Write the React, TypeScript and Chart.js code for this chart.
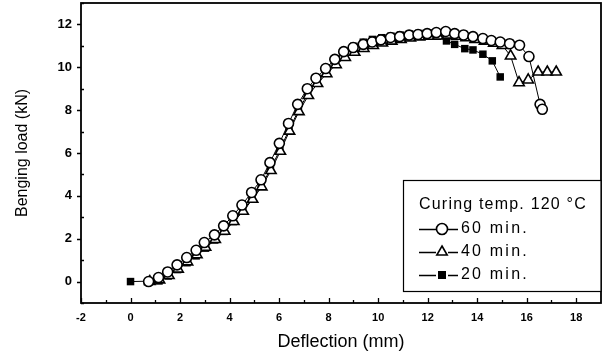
import React, { useEffect, useRef } from "react";
import { Chart, registerables } from "chart.js";

Chart.register(...registerables);

// 60 min. (circles)
const x60 = [0.73, 1.13, 1.5, 1.88, 2.27, 2.65, 2.98, 3.39, 3.76, 4.13, 4.5, 4.89, 5.27, 5.63, 6.01, 6.38, 6.75, 7.14, 7.49, 7.88, 8.25, 8.61, 8.99, 9.4, 9.76, 10.11, 10.5, 10.87, 11.25, 11.61, 11.98, 12.35, 12.73, 13.09, 13.45, 13.83, 14.23, 14.57, 14.93, 15.31, 15.71, 16.09, 16.54, 16.63];
const y60 = [0, 0.19, 0.45, 0.78, 1.12, 1.46, 1.82, 2.18, 2.6, 3.07, 3.57, 4.16, 4.75, 5.55, 6.45, 7.38, 8.27, 9.0, 9.49, 9.94, 10.37, 10.73, 10.92, 11.07, 11.18, 11.28, 11.39, 11.43, 11.5, 11.53, 11.57, 11.62, 11.67, 11.57, 11.51, 11.43, 11.34, 11.25, 11.18, 11.1, 11.03, 10.5, 8.27, 8.04];

// 40 min. (triangles)
const x40 = [0.78, 1.17, 1.55, 1.92, 2.3, 2.68, 3.03, 3.42, 3.8, 4.17, 4.55, 4.93, 5.3, 5.67, 6.05, 6.42, 6.8, 7.18, 7.55, 7.92, 8.3, 8.67, 9.05, 9.42, 9.8, 10.17, 10.55, 10.92, 11.3, 11.67, 12.05, 12.42, 12.8, 13.17, 13.55, 13.92, 14.3, 14.67, 15.02, 15.35, 15.69, 16.06, 16.46, 16.83, 17.19];
const y40 = [0, 0.08, 0.28, 0.58, 0.92, 1.25, 1.6, 1.96, 2.35, 2.8, 3.28, 3.84, 4.42, 5.18, 6.08, 7.02, 7.93, 8.68, 9.24, 9.7, 10.12, 10.46, 10.7, 10.88, 11.02, 11.13, 11.22, 11.3, 11.37, 11.42, 11.45, 11.46, 11.5, 11.45, 11.38, 11.3, 11.22, 11.12, 11.02, 10.53, 9.28, 9.41, 9.78, 9.78, 9.78];

// 20 min. (filled squares)
const x20 = [0, 1.15, 1.52, 1.9, 2.28, 2.65, 3.03, 3.4, 3.78, 4.15, 4.53, 4.9, 5.28, 5.65, 6.03, 6.4, 6.78, 7.15, 7.52, 7.9, 8.27, 8.65, 9.02, 9.4, 9.77, 10.15, 10.52, 10.9, 11.27, 11.65, 12.02, 12.4, 12.76, 13.09, 13.5, 13.83, 14.23, 14.61, 14.93];
const y20 = [0, 0.03, 0.26, 0.56, 0.88, 1.2, 1.56, 1.94, 2.34, 2.8, 3.3, 3.86, 4.46, 5.24, 6.14, 7.08, 7.98, 8.74, 9.36, 9.88, 10.34, 10.7, 10.98, 11.17, 11.3, 11.38, 11.45, 11.5, 11.55, 11.58, 11.6, 11.45, 11.23, 11.07, 10.87, 10.81, 10.61, 10.3, 9.55];

const seriesLabels = ["60 min.", "40 min.", "20 min."];
const legendTitle = "Curing temp. 120 °C";
const xTitle = "Deflection (mm)";
const yTitle = "Benging load (kN)";
const xLabelTicks = [-2, 0, 2, 4, 6, 8, 10, 12, 14, 16, 18];
const yLabelTicks = [0, 2, 4, 6, 8, 10, 12];
const xMinorTicks = [-2, -1, 0, 1, 2, 3, 4, 5, 6, 7, 8, 9, 10, 11, 12, 13, 14, 15, 16, 17, 18];
const yMinorTicks = [-1, 0, 1, 2, 3, 4, 5, 6, 7, 8, 9, 10, 11, 12, 13];

const FONT = "'Liberation Sans', Arial, Helvetica, sans-serif";

const toPoints = (xs: number[], ys: number[]) => xs.map((x, i) => ({ x, y: ys[i] }));

const framePlugin = {
  id: "frameTicks",
  beforeDatasetsDraw(chart: any) {
    const { ctx, chartArea: a, scales } = chart;
    ctx.save();
    ctx.strokeStyle = "#000";
    ctx.lineWidth = 1.8;
    ctx.strokeRect(a.left, a.top, a.right - a.left, a.bottom - a.top);
    ctx.lineWidth = 1.3;
    ctx.beginPath();
    xMinorTicks.forEach((v) => {
      const px = Math.round(scales.x.getPixelForValue(v)) + 0.5;
      const len = v % 2 === 0 ? 5 : 3;
      ctx.moveTo(px, a.bottom);
      ctx.lineTo(px, a.bottom - len);
    });
    yMinorTicks.forEach((v) => {
      const py = Math.round(scales.y.getPixelForValue(v)) + 0.5;
      if (v % 2 === 0) {
        ctx.moveTo(a.left, py);
        ctx.lineTo(a.left - 4, py);
      } else {
        ctx.moveTo(a.left, py);
        ctx.lineTo(a.left + 3, py);
      }
    });
    ctx.stroke();
    ctx.restore();
  },
};

const legendPlugin = {
  id: "customLegend",
  afterDraw(chart: any) {
    const { ctx } = chart;
    const left = 403.5;
    const top = 180.5;
    const right = chart.chartArea.right;
    const bottom = 291.5;
    ctx.save();
    ctx.fillStyle = "#fff";
    ctx.fillRect(left, top, right - left, bottom - top);
    ctx.strokeStyle = "#000";
    ctx.lineWidth = 1.2;
    ctx.strokeRect(left, top, right - left, bottom - top);

    ctx.fillStyle = "#000";
    ctx.textBaseline = "middle";
    ctx.textAlign = "left";
    ctx.font = `16px ${FONT}`;
    (ctx as any).letterSpacing = "1.2px";
    ctx.fillText(legendTitle, 419, 205);

    const rows = [229, 252, 275];
    const mx = 442;
    rows.forEach((ry, i) => {
      ctx.lineWidth = 1.3;
      ctx.strokeStyle = "#000";
      ctx.beginPath();
      ctx.moveTo(419, ry + 0.5);
      ctx.lineTo(436, ry + 0.5);
      ctx.moveTo(448, ry + 0.5);
      ctx.lineTo(458, ry + 0.5);
      ctx.stroke();
      ctx.lineWidth = 1.6;
      if (i === 0) {
        ctx.beginPath();
        ctx.arc(mx, ry, 5.5, 0, Math.PI * 2);
        ctx.fillStyle = "#fff";
        ctx.fill();
        ctx.stroke();
      } else if (i === 1) {
        const r = 6;
        ctx.beginPath();
        ctx.moveTo(mx, ry - r);
        ctx.lineTo(mx + r * 0.866, ry + r * 0.5);
        ctx.lineTo(mx - r * 0.866, ry + r * 0.5);
        ctx.closePath();
        ctx.fillStyle = "#fff";
        ctx.fill();
        ctx.stroke();
      } else {
        ctx.fillStyle = "#000";
        ctx.fillRect(mx - 4, ry - 4, 8, 8);
      }
      ctx.fillStyle = "#000";
      ctx.font = `16px ${FONT}`;
      (ctx as any).letterSpacing = "2.2px";
      ctx.fillText(seriesLabels[i], 461, ry);
    });
    (ctx as any).letterSpacing = "0px";
    ctx.restore();
  },
};

export default function App() {
  const canvasRef = useRef<HTMLCanvasElement | null>(null);

  useEffect(() => {
    const canvas = canvasRef.current;
    if (!canvas) return;
    const chart = new Chart(canvas, {
      type: "scatter",
      data: {
        datasets: [
          {
            label: seriesLabels[0],
            data: toPoints(x60, y60),
            showLine: true,
            borderColor: "#000",
            borderWidth: 1,
            pointStyle: "circle",
            pointRadius: 5,
            pointBorderWidth: 1.6,
            pointBackgroundColor: "#fff",
            pointBorderColor: "#000",
          },
          {
            label: seriesLabels[1],
            data: toPoints(x40, y40),
            showLine: true,
            borderColor: "#000",
            borderWidth: 1,
            pointStyle: "triangle",
            pointRadius: 6,
            pointBorderWidth: 1.6,
            pointBackgroundColor: "#fff",
            pointBorderColor: "#000",
          },
          {
            label: seriesLabels[2],
            data: toPoints(x20, y20),
            showLine: true,
            borderColor: "#000",
            borderWidth: 1,
            pointStyle: "rect",
            pointRadius: 5.3,
            pointBorderWidth: 0,
            pointBackgroundColor: "#000",
            pointBorderColor: "#000",
          },
        ],
      },
      options: {
        animation: false,
        responsive: false,
        devicePixelRatio: 1,
        layout: { autoPadding: false, padding: { top: 3, right: 7, left: 0, bottom: 0 } },
        plugins: {
          legend: { display: false },
          tooltip: { enabled: false },
          title: { display: false },
        },
        scales: {
          x: {
            type: "linear",
            min: -2,
            max: 19,
            afterBuildTicks: (scale: any) => {
              scale.ticks = xLabelTicks.map((v) => ({ value: v }));
            },
            afterFit: (scale: any) => {
              scale.height = 53;
            },
            grid: { display: false, drawTicks: false },
            border: { display: false },
            ticks: {
              color: "#000",
              padding: 8,
              font: { family: FONT, size: 11, weight: "bold" },
              maxRotation: 0,
              autoSkip: false,
            },
            title: {
              display: true,
              text: xTitle,
              color: "#000",
              font: { family: FONT, size: 18 },
              padding: { top: 0, bottom: 3 },
            },
          },
          y: {
            type: "linear",
            min: -1,
            max: 13,
            afterBuildTicks: (scale: any) => {
              scale.ticks = yLabelTicks.map((v) => ({ value: v }));
            },
            afterFit: (scale: any) => {
              scale.width = 81;
            },
            grid: { display: false, drawTicks: true, tickLength: 9 },
            border: { display: false },
            ticks: {
              color: "#000",
              padding: 0,
              font: { family: FONT, size: 13, weight: "bold", lineHeight: 0.4 },
              autoSkip: false,
            },
            title: {
              display: true,
              text: yTitle,
              color: "#000",
              font: { family: FONT, size: 16 },
              padding: { top: 13, bottom: 0 },
            },
          },
        },
      },
      plugins: [framePlugin, legendPlugin],
    } as any);
    return () => chart.destroy();
  }, []);

  return (
    <div style={{ position: "absolute", left: 0, top: 0, width: 608, height: 356, background: "#fff" }}>
      <canvas ref={canvasRef} width={608} height={356} style={{ display: "block" }} />
    </div>
  );
}
